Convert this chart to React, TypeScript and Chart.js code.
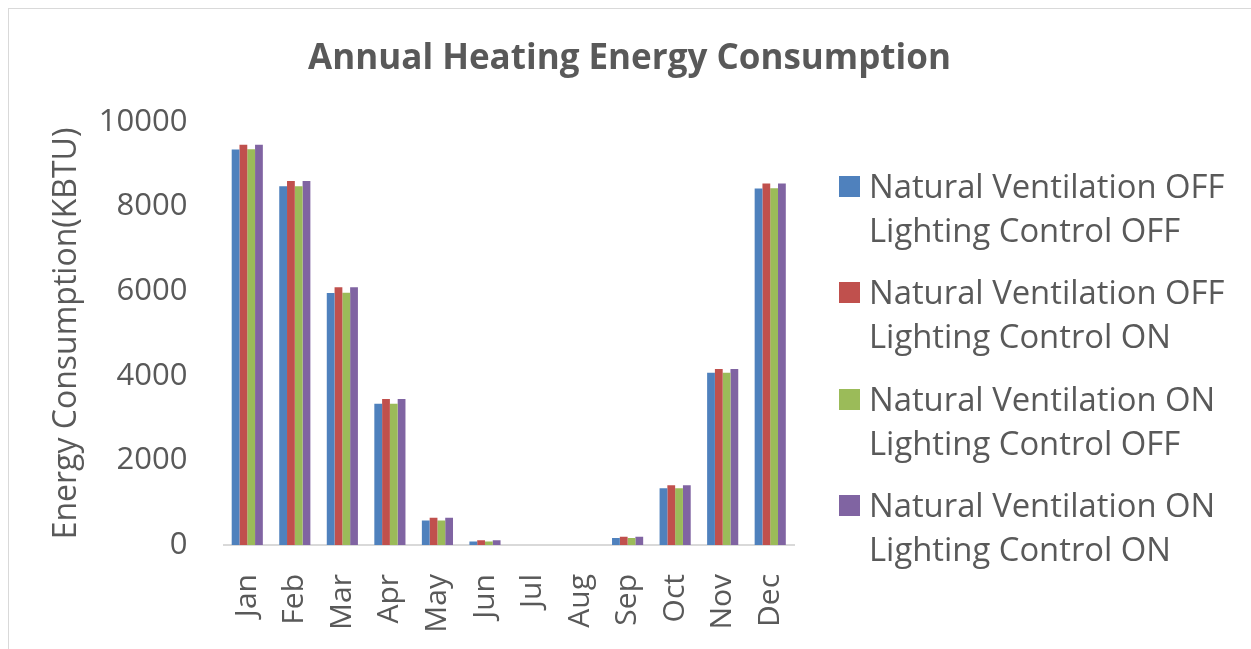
import React, { useEffect, useRef } from "react";
import { Chart, registerables } from "chart.js";

Chart.register(...registerables);

const months = ["Jan", "Feb", "Mar", "Apr", "May", "Jun", "Jul", "Aug", "Sep", "Oct", "Nov", "Dec"];
const nvOffLcOff = [9350, 8480, 5960, 3340, 580, 85, 0, 0, 165, 1340, 4070, 8430];
const nvOffLcOn = [9465, 8605, 6095, 3450, 645, 110, 0, 0, 195, 1410, 4160, 8545];
const nvOnLcOff = [9355, 8480, 5965, 3340, 580, 85, 0, 0, 165, 1340, 4070, 8435];
const nvOnLcOn = [9465, 8605, 6095, 3450, 645, 110, 0, 0, 195, 1410, 4160, 8545];

const seriesLabels = [
  ["Natural Ventilation OFF", "Lighting Control OFF"],
  ["Natural Ventilation OFF", "Lighting Control ON"],
  ["Natural Ventilation ON", "Lighting Control OFF"],
  ["Natural Ventilation ON", "Lighting Control ON"],
];
const seriesColors = ["#4F81BD", "#C0504D", "#9BBB59", "#8064A2"];
const yTicks = [0, 2000, 4000, 6000, 8000, 10000];

const FONT = "'Open Sans', 'DejaVu Sans', sans-serif";
const TEXT = "#595959";

export default function App() {
  const ref = useRef<HTMLCanvasElement>(null);

  useEffect(() => {
    if (!ref.current) return;
    const values = [nvOffLcOff, nvOffLcOn, nvOnLcOff, nvOnLcOn];
    const chart = new Chart(ref.current, {
      type: "bar",
      data: {
        labels: months,
        datasets: values.map((v, i) => ({
          label: seriesLabels[i].join(" "),
          data: v,
          backgroundColor: seriesColors[i],
          borderWidth: 0,
          categoryPercentage: 0.655,
          barPercentage: 1,
        })),
      },
      options: {
        animation: false,
        responsive: false,
        layout: { padding: { left: 0, top: 122, right: 457, bottom: 0 } },
        plugins: { legend: { display: false }, tooltip: { enabled: false }, title: { display: false } },
        scales: {
          x: {
            grid: { display: false },
            border: { display: true, color: "#d9d9d9", width: 2 },
            ticks: {
              color: TEXT,
              font: { family: FONT, size: 30 },
              minRotation: 90,
              maxRotation: 90,
              padding: 21,
            },
            afterFit: (s: any) => {
              s.height = 104;
            },
          },
          y: {
            min: 0,
            max: 10000,
            grid: { display: false },
            border: { display: false },
            afterBuildTicks: (s: any) => {
              s.ticks = yTicks.map((v) => ({ value: v }));
            },
            ticks: {
              color: TEXT,
              font: { family: FONT, size: 31 },
              padding: 28,
              callback: (v: any) => String(v),
            },
            title: {
              display: true,
              text: "Energy Consumption(KBTU)",
              color: TEXT,
              font: { family: FONT, size: 32 },
              padding: { top: 48, bottom: 0 },
            },
            afterFit: (s: any) => {
              s.width = 223.5;
            },
          },
        },
      },
    });
    return () => chart.destroy();
  }, []);

  return (
    <div style={{ position: "fixed", left: 0, top: 0, width: 1251, height: 649, background: "#fff", overflow: "hidden" }}>
      <div
        style={{
          position: "absolute",
          left: 8,
          top: 8,
          width: 1260,
          height: 660,
          border: "1px solid #d9d9d9",
          boxSizing: "border-box",
        }}
      />
      <canvas ref={ref} width={1251} height={649} style={{ position: "absolute", left: 0, top: 0 }} />
      <div
        style={{
          position: "absolute",
          left: 0,
          width: 1259,
          top: 33,
          textAlign: "center",
          fontFamily: FONT,
          fontWeight: 700,
          fontSize: 35,
          color: TEXT,
          lineHeight: "46px",
          whiteSpace: "nowrap",
        }}
      >
        Annual Heating Energy Consumption
      </div>
      <div style={{ position: "absolute", left: 839, top: 0 }}>
        {seriesLabels.map((lines, i) => (
          <div key={i} style={{ position: "absolute", left: 0, top: 164 + i * 106.3, whiteSpace: "nowrap" }}>
            <div
              style={{
                position: "absolute",
                left: 0,
                top: 12,
                width: 21,
                height: 21,
                background: seriesColors[i],
              }}
            />
            <div
              style={{
                position: "absolute",
                left: 30,
                top: 0,
                fontFamily: FONT,
                fontSize: 32.8,
                lineHeight: "44px",
                color: TEXT,
              }}
            >
              {lines.map((l, j) => (
                <div key={j}>{l}</div>
              ))}
            </div>
          </div>
        ))}
      </div>
    </div>
  );
}
